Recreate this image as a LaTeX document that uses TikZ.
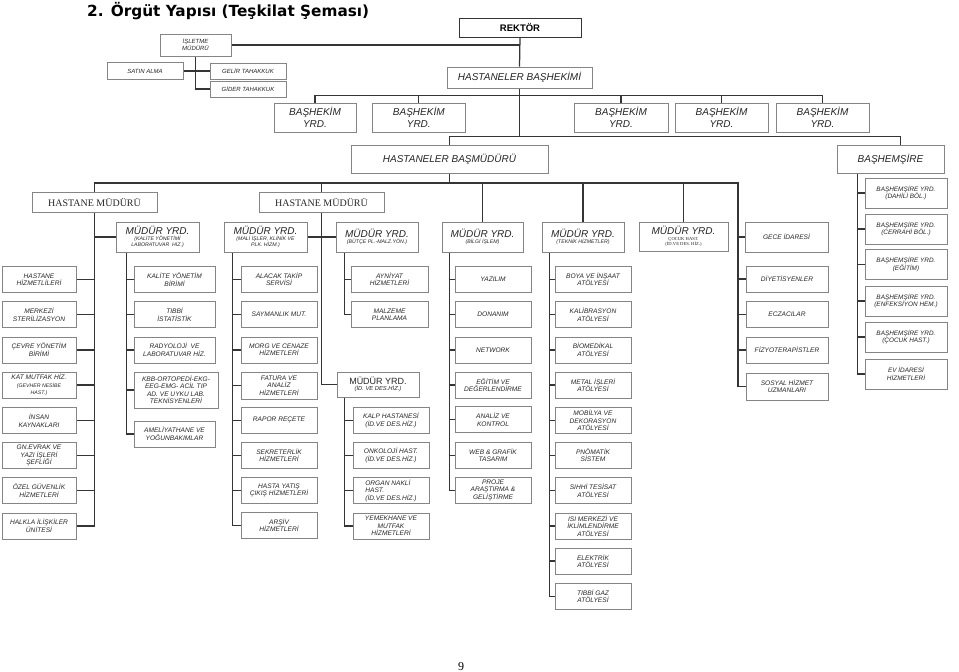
\documentclass[tikz,border=0pt]{standalone}
\usepackage{fontspec}
\setmainfont{Liberation Sans}
\newfontfamily\serifff{Liberation Serif}
\newfontfamily\titlefont{DejaVu Sans}
\usetikzlibrary{calc,backgrounds}
\definecolor{boxgray}{HTML}{858585}
\definecolor{linegray}{HTML}{353535}
\definecolor{txt}{HTML}{262626}
\newcommand\smf{\fontsize{6.6}{7.5}\selectfont\itshape}
\newcommand\tinyf{\fontsize{5.2}{5.8}\selectfont\itshape}
\newcommand\bigf{\fontsize{10}{11.5}\selectfont\itshape}
\begin{document}
\begin{tikzpicture}[x=1pt,y=-1pt,
 bx/.style={draw=boxgray,line width=0.75pt,fill=white,inner sep=0pt,align=center,text=txt,font=\smf},
 big/.style={bx,font=\bigf,text=black!85},
 myrd/.style={bx,font=\tinyf,minimum height=30pt},
 topsm/.style={bx,font=\fontsize{6}{7}\selectfont\itshape},
 conn/.style={draw=linegray,line width=1.25pt},
]
\useasboundingbox (0,0) rectangle (959,672);
% title
\node[anchor=base west,inner sep=0,font=\titlefont\bfseries\fontsize{15.3}{18}\selectfont] (title) at (87,16) {2. Örgüt Yapısı (Teşkilat Şeması)};
% top
\node[bx,draw=linegray,line width=0.95pt,font=\bfseries\fontsize{9.5}{11}\selectfont,text=black,minimum width=122pt,minimum height=19pt] (rek) at (520,27.5) {REKTÖR};
\node[topsm,minimum width=71pt,minimum height=22pt] (isl) at (195.5,45) {İŞLETME\\MÜDÜRÜ};
\node[topsm,minimum width=76pt,minimum height=17pt] (sat) at (145,71) {SATIN ALMA};
\node[topsm,minimum width=76pt,minimum height=16pt] (gel) at (248,71) {GELİR TAHAKKUK};
\node[topsm,minimum width=76pt,minimum height=16pt] (gid) at (248,89) {GİDER TAHAKKUK};
\node[big,minimum width=145pt,minimum height=21pt] (hbas) at (519.5,77.5) {HASTANELER BAŞHEKİMİ};
\node[big,minimum width=82pt,minimum height=29pt] (by1) at (315,117.5) {BAŞHEKİM\\YRD.};
\node[big,minimum width=93pt,minimum height=29pt] (by2) at (418.8,117.5) {BAŞHEKİM\\YRD.};
\node[big,minimum width=94pt,minimum height=29pt] (by3) at (621,117.5) {BAŞHEKİM\\YRD.};
\node[big,minimum width=93pt,minimum height=29pt] (by4) at (721.5,117.5) {BAŞHEKİM\\YRD.};
\node[big,minimum width=93pt,minimum height=29pt] (by5) at (822.5,117.5) {BAŞHEKİM\\YRD.};
\node[big,minimum width=197pt,minimum height=28pt] (hbm) at (449.5,159) {HASTANELER BAŞMÜDÜRÜ};
\node[big,minimum width=107pt,minimum height=28pt] (bhs) at (890.5,159) {BAŞHEMŞİRE};
\node[bx,font=\serifff\fontsize{10}{12}\selectfont,minimum width=125pt,minimum height=20pt] (hm1) at (94.5,202) {HASTANE MÜDÜRÜ};
\node[bx,font=\serifff\fontsize{10}{12}\selectfont,minimum width=125pt,minimum height=20pt] (hm2) at (321.5,202) {HASTANE MÜDÜRÜ};
% mudur yrd
\node[myrd,minimum width=83pt] (my1) at (157.5,237) {{\bigf MÜDÜR YRD.}\\(KALİTE YÖNETİMİ\\LABORATUVAR\ \ HİZ.)};
\node[myrd,minimum width=83pt] (my2) at (265.5,237) {{\bigf MÜDÜR YRD.}\\(MALİ İŞLER, KLİNİK VE\\PLK. HİZM.)};
\node[myrd,minimum width=82pt] (my3) at (377,237) {{\bigf MÜDÜR YRD.}\\(BÜTÇE PL.-MALZ.YÖN.)};
\node[myrd,minimum width=81pt] (my4) at (482.5,237) {{\bigf MÜDÜR YRD.}\\(BİLGİ İŞLEM)};
\node[myrd,minimum width=82pt] (my5) at (583,237) {{\bigf MÜDÜR YRD.}\\(TEKNİK HİZMETLER)};
\node[myrd,font=\serifff\fontsize{4.6}{5.2}\selectfont,minimum width=89pt,minimum height=29pt] (my6) at (683.5,236.5) {{\rmfamily\bigf MÜDÜR YRD.}\\ÇOCUK HAST.\\(İD.VE DES. HİZ.)};
\node[bx,minimum width=83pt,minimum height=30pt] (gece) at (786.5,237) {GECE İDARESİ};
% left column
\begin{scope}[every node/.append style={bx,minimum width=74pt,minimum height=26pt}]
\node (c1) at (39,279.5) {HASTANE\\HİZMETLİLERİ};
\node (c2) at (39,314.7) {MERKEZİ\\STERİLİZASYON};
\node (c3) at (39,349.9) {ÇEVRE YÖNETİM\\BİRİMİ};
\node (c4) at (39,385.1) {KAT MUTFAK HİZ.\\{\tinyf (GEVHER NESİBE}\\{\tinyf HAST.)}};
\node (c5) at (39,420.8) {İNSAN\\KAYNAKLARI};
\node (c6) at (39,455.8) {GN.EVRAK VE\\YAZI İŞLERİ\\ŞEFLİĞİ};
\node (c7) at (39,490.8) {ÖZEL GÜVENLİK\\HİZMETLERİ};
\node (c8) at (39,525.9) {HALKLA İLİŞKİLER\\ÜNİTESİ};
\end{scope}
% kalite column
\begin{scope}[every node/.append style={bx,minimum width=81pt,minimum height=26pt}]
\node (k1) at (174.5,279.5) {KALİTE YÖNETİM\\BİRİMİ};
\node (k2) at (174.5,314.7) {TIBBİ\\İSTATİSTİK};
\node (k3) at (174.5,349.9) {RADYOLOJİ\ \ VE\\LABORATUVAR HİZ.};
\node[minimum width=84pt,minimum height=36pt] (k4) at (176,390) {KBB-ORTOPEDİ-EKG-\\EEG-EMG- ACİL TIP\\AD. VE UYKU LAB.\\TEKNİSYENLERİ};
\node (k5) at (174.5,434) {AMELİYATHANE VE\\YOĞUNBAKIMLAR};
\end{scope}
% mali column
\begin{scope}[every node/.append style={bx,minimum width=76pt,minimum height=26pt}]
\node (m1) at (279,279.5) {ALACAK TAKİP\\SERVİSİ};
\node (m2) at (279,314.7) {SAYMANLIK MUT.};
\node (m3) at (279,349.9) {MORG VE CENAZE\\HİZMETLERİ};
\node[minimum height=27pt] (m4) at (279,385.5) {FATURA VE\\ANALİZ\\HİZMETLERİ};
\node (m5) at (279,420.3) {RAPOR REÇETE};
\node (m6) at (279,455.5) {SEKRETERLİK\\HİZMETLERİ};
\node (m7) at (279,490.2) {HASTA YATIŞ\\ÇIKIŞ HİZMETLERİ};
\node (m8) at (279,525.2) {ARŞİV\\HİZMETLERİ};
\end{scope}
% butce column
\begin{scope}[every node/.append style={bx,minimum width=77pt,minimum height=26pt}]
\node (b1) at (389.5,279.5) {AYNİYAT\\HİZMETLERİ};
\node (b2) at (389.5,314.7) {MALZEME\\PLANLAMA};
\end{scope}
% id ve des
\node[bx,font=\fontsize{5.8}{6.6}\selectfont\itshape,minimum width=82pt,minimum height=25pt] (idv) at (378,384.5) {{\upshape\fontsize{9}{10}\selectfont MÜDÜR YRD.}\\(İD. VE DES.HİZ.)};
\begin{scope}[every node/.append style={bx,minimum width=76pt,minimum height=26pt}]
\node (d1) at (391,420.3) {KALP HASTANESİ\\(İD.VE DES.HİZ.)};
\node (d2) at (391,455.5) {ONKOLOJİ HAST.\\(İD.VE DES.HİZ.)};
\node[align=left] (d3) at (391,490.7) {ORGAN NAKLİ\\HAST.\\(İD.VE DES.HİZ.)};
\node (d4) at (391,525.9) {YEMEKHANE VE\\MUTFAK\\HİZMETLERİ};
\end{scope}
% bilgi islem
\begin{scope}[every node/.append style={bx,minimum width=76pt,minimum height=26pt}]
\node (i1) at (493,279.5) {YAZILIM};
\node (i2) at (493,314.7) {DONANIM};
\node (i3) at (493,349.9) {NETWORK};
\node (i4) at (493,385.1) {EĞİTİM VE\\DEĞERLENDİRME};
\node (i5) at (493,419.8) {ANALİZ VE\\KONTROL};
\node (i6) at (493,455.2) {WEB \& GRAFİK\\TASARIM};
\node (i7) at (493,490.2) {PROJE\\ARAŞTIRMA \&\\GELİŞTİRME};
\end{scope}
% teknik
\begin{scope}[every node/.append style={bx,minimum width=76pt,minimum height=26pt}]
\node (t1) at (593,279.5) {BOYA VE İNŞAAT\\ATÖLYESİ};
\node (t2) at (593,314.7) {KALİBRASYON\\ATÖLYESİ};
\node (t3) at (593,349.9) {BİOMEDİKAL\\ATÖLYESİ};
\node (t4) at (593,385.1) {METAL İŞLERİ\\ATÖLYESİ};
\node (t5) at (593,420.3) {MOBİLYA VE\\DEKORASYON\\ATÖLYESİ};
\node (t6) at (593,455.3) {PNÖMATİK\\SİSTEM};
\node (t7) at (593,490.7) {SIHHİ TESİSAT\\ATÖLYESİ};
\node (t8) at (593,525.9) {ISI MERKEZİ VE\\İKLİMLENDİRME\\ATÖLYESİ};
\node (t9) at (593,561.1) {ELEKTRİK\\ATÖLYESİ};
\node (t10) at (593,596.3) {TIBBİ GAZ\\ATÖLYESİ};
\end{scope}
% gece column
\begin{scope}[every node/.append style={bx,minimum width=82pt,minimum height=26pt}]
\node (g1) at (787,279) {DİYETİSYENLER};
\node (g2) at (787,314.7) {ECZACILAR};
\node (g3) at (787,349.9) {FİZYOTERAPİSTLER};
\node[minimum height=27pt] (g4) at (787,386.5) {SOSYAL HİZMET\\UZMANLARI};
\end{scope}
% bashemsire column
\begin{scope}[every node/.append style={bx,font=\fontsize{6.4}{7.4}\selectfont\itshape,minimum width=82pt,minimum height=30pt}]
\node (h1) at (906,193) {BAŞHEMŞİRE YRD.\\(DAHİLİ BÖL.)};
\node (h2) at (906,229) {BAŞHEMŞİRE YRD.\\(CERRAHİ BÖL.)};
\node (h3) at (906,264.5) {BAŞHEMŞİRE YRD.\\(EĞİTİM)};
\node (h4) at (906,301) {BAŞHEMŞİRE YRD.\\(ENFEKSİYON HEM.)};
\node (h5) at (906,337) {BAŞHEMŞİRE YRD.\\(ÇOCUK HAST.)};
\node (h6) at (906,374) {EV İDARESİ\\HİZMETLERİ};
\end{scope}
\node[inner sep=0,anchor=base,font=\serifff\fontsize{12}{14}\selectfont] (pg) at (461,670) {9};
% connectors
\begin{scope}[on background layer]
\fill[white] (0,0) rectangle (959,672);
\coordinate (barB) at ([yshift=8pt]hbm.north);
\coordinate (gbus) at (738,183);
\coordinate (kb) at ([xshift=11pt]my1.south west);
\coordinate (mb) at ([xshift=9pt]my2.south west);
\coordinate (bb) at ([xshift=8.5pt]my3.south west);
\coordinate (db) at ([xshift=8pt]idv.south west);
\coordinate (ib) at ([xshift=8pt]my4.south west);
\coordinate (tb) at ([xshift=8pt]my5.south west);
\coordinate (hb) at ([xshift=21pt]bhs.south west);
\draw[conn] (rek.south) -- (hbas.north);
\draw[conn] (isl.east) -- (isl.east -| rek.south);
\draw[conn] (isl.south) |- (gid.west);
\draw[conn] (sat.east) -- (gel.west);
\draw[conn] (by1.north) -- ++(0,-7) -| (by5.north);
\foreach \n in {by2,by3,by4} {\draw[conn] (\n.north) -- ++(0,-7);}
\draw[conn] (hbas.south) -- (hbas.south |- barB);
\draw[conn] (hbm.north) -- (barB) -| ([xshift=10pt]bhs.north);
\draw[conn] (hm1.north) |- (gbus) -- (gbus |- g4.west) -- (g4.west);
\foreach \n in {hm2,my4,my5,my6} {\draw[conn] (\n.north) -- (\n.north |- gbus);}
\draw[conn] (hbm.south) -- (hbm.south |- gbus);
\foreach \n in {gece,g1,g2,g3} {\draw[conn] (\n.west) -- (\n.west -| gbus);}
\draw[conn] (hm1.south) |- (c8.east);
\foreach \i in {1,...,7} {\draw[conn] (c\i.east) -- (c\i.east -| hm1.south);}
\draw[conn] (my1.west) -- (my1.west -| hm1.south);
\draw[conn] (kb) |- (k5.west);
\foreach \i in {1,...,4} {\draw[conn] (k\i.west) -- (k\i.west -| kb);}
\draw[conn] (hm2.south) |- (idv.west);
\draw[conn] (my2.east) -- (my2.east -| hm2.south);
\draw[conn] (my3.west) -- (my3.west -| hm2.south);
\draw[conn] (mb) |- (m8.west);
\foreach \i in {1,...,7} {\draw[conn] (m\i.west) -- (m\i.west -| mb);}
\draw[conn] (bb) |- (b2.west);
\draw[conn] (b1.west) -- (b1.west -| bb);
\draw[conn] (db) |- (d4.west);
\foreach \i in {1,...,3} {\draw[conn] (d\i.west) -- (d\i.west -| db);}
\draw[conn] (ib) |- (i7.west);
\foreach \i in {1,...,6} {\draw[conn] (i\i.west) -- (i\i.west -| ib);}
\draw[conn] (tb) |- (t10.west);
\foreach \i in {1,...,9} {\draw[conn] (t\i.west) -- (t\i.west -| tb);}
\draw[conn] (hb) |- (h6.west);
\foreach \i in {1,...,5} {\draw[conn] (h\i.west) -- (h\i.west -| hb);}
\end{scope}
\end{tikzpicture}
\end{document}
